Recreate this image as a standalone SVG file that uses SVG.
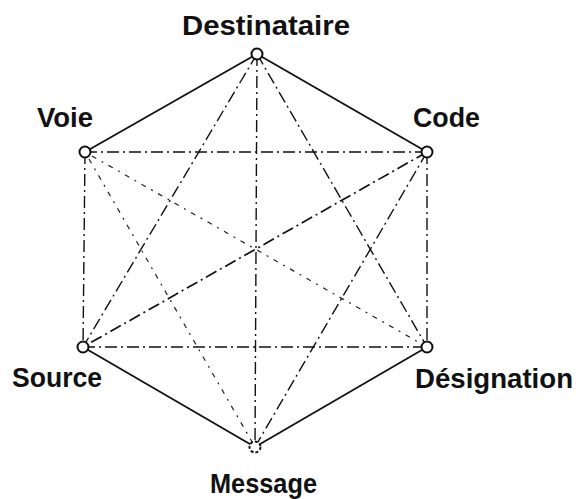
<svg xmlns="http://www.w3.org/2000/svg" width="578" height="499" viewBox="0 0 578 499">
<style>
.lbl{font-family:"Liberation Sans",Arial,sans-serif;font-weight:bold;font-size:27px;fill:#111}
.solid{stroke:#111;stroke-width:1.8;fill:none}
.dd{stroke:#111;stroke-width:1.4;fill:none;stroke-dasharray:12 4 2 4}
.dot{stroke:#222;stroke-width:1.2;fill:none;stroke-dasharray:2 6 5 6}
.node{fill:#fff;stroke:#111;stroke-width:2}
</style>
<rect width="578" height="499" fill="#fff"/>
<g id="connectors">
<line class="solid" x1="257" y1="54" x2="85" y2="152"/>
<line class="solid" x1="257" y1="54" x2="427" y2="152"/>
<line class="dd" x1="257" y1="54" x2="83" y2="347"/>
<line class="dd" x1="257" y1="54" x2="427" y2="347"/>
<line class="dd" x1="257" y1="54" x2="255" y2="447"/>
<line class="dd" x1="85" y1="152" x2="427" y2="152"/>
<line class="dd" x1="85" y1="152" x2="83" y2="347"/>
<line class="dot" x1="85" y1="152" x2="427" y2="347"/>
<line class="dot" x1="85" y1="152" x2="255" y2="447"/>
<line class="dd" x1="427" y1="152" x2="83" y2="347" style="stroke-width:1.7"/>
<line class="dd" x1="427" y1="152" x2="427" y2="347"/>
<line class="dd" x1="427" y1="152" x2="255" y2="447"/>
<line class="dd" x1="83" y1="347" x2="427" y2="347"/>
<line class="solid" x1="83" y1="347" x2="255" y2="447"/>
<line class="solid" x1="255" y1="447" x2="427" y2="347"/>
</g>
<g id="destinataire"><circle class="node" cx="257" cy="54" r="5.5"/><text class="lbl" x="182" y="35" textLength="168" lengthAdjust="spacingAndGlyphs">Destinataire</text></g>
<g id="voie"><circle class="node" cx="85" cy="152" r="5.5"/><text class="lbl" x="37" y="127" textLength="56" lengthAdjust="spacingAndGlyphs">Voie</text></g>
<g id="code"><circle class="node" cx="427" cy="152" r="5.5"/><text class="lbl" x="413" y="127" textLength="67" lengthAdjust="spacingAndGlyphs">Code</text></g>
<g id="source"><circle class="node" cx="83" cy="347" r="5.5"/><text class="lbl" x="12" y="387" textLength="90" lengthAdjust="spacingAndGlyphs">Source</text></g>
<g id="designation"><circle class="node" cx="427" cy="347" r="5.5"/><text class="lbl" x="415" y="388" textLength="158" lengthAdjust="spacingAndGlyphs">Désignation</text></g>
<g id="message"><circle class="node" cx="255" cy="447" r="5.5" style="stroke-dasharray:3 2"/><text class="lbl" x="210" y="493" textLength="107" lengthAdjust="spacingAndGlyphs">Message</text></g>
</svg>
